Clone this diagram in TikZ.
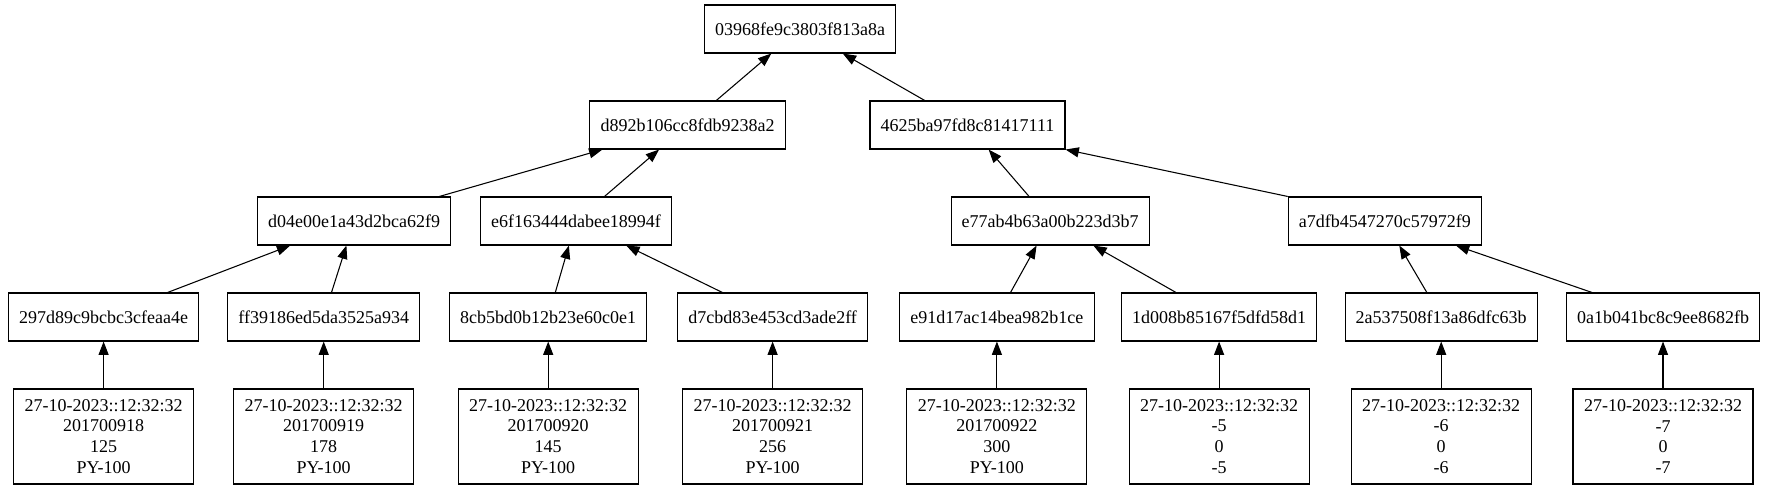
\documentclass[tikz,border=0pt]{standalone}
\usepackage{fontspec}
\setmainfont{Liberation Serif}
\usetikzlibrary{arrows.meta}
\begin{document}
\begin{tikzpicture}[x=0.75pt,y=-0.75pt,
  hbox/.style={draw, line width=0.8pt, minimum height=36pt, inner xsep=8pt, inner ysep=2pt,
    font=\fontsize{13.5}{15.7}\selectfont},
  leaf/.style={hbox, minimum height=71.25pt, minimum width=135pt, align=center},
  arr/.style={-{Triangle[length=10pt,width=7.5pt]}, line width=0.8pt}]
\useasboundingbox (0,0) rectangle (1767,489);
% level 0
\node[hbox] (root) at (800,29) {03968fe9c3803f813a8a};
% level 1
\node[hbox] (d892) at (687.6,125) {d892b106cc8fdb9238a2};
\node[hbox] (n4625) at (967.5,125) {4625ba97fd8c81417111};
% level 2
\node[hbox] (d04e) at (354.2,221) {d04e00e1a43d2bca62f9};
\node[hbox] (e6f1) at (576,221) {e6f163444dabee18994f};
\node[hbox] (e77a) at (1050.2,221) {e77ab4b63a00b223d3b7};
\node[hbox] (a7df) at (1384.9,221) {a7dfb4547270c57972f9};
% level 3
\node[hbox] (h297d) at (103.6,317) {297d89c9bcbc3cfeaa4e};
\node[hbox] (ff39) at (323.7,317) {ff39186ed5da3525a934};
\node[hbox] (h8cb5) at (548.2,317) {8cb5bd0b12b23e60c0e1};
\node[hbox] (d7cb) at (772.6,317) {d7cbd83e453cd3ade2ff};
\node[hbox] (e91d) at (996.9,317) {e91d17ac14bea982b1ce};
\node[hbox] (h1d00) at (1219.1,317) {1d008b85167f5dfd58d1};
\node[hbox] (h2a53) at (1441.2,317) {2a537508f13a86dfc63b};
\node[hbox] (h0a1b) at (1663,317) {0a1b041bc8c9ee8682fb};
% level 4
\node[leaf] (l1) at (103.6,436.5) {27-10-2023::12:32:32\\201700918\\125\\PY-100};
\node[leaf] (l2) at (323.7,436.5) {27-10-2023::12:32:32\\201700919\\178\\PY-100};
\node[leaf] (l3) at (548.2,436.5) {27-10-2023::12:32:32\\201700920\\145\\PY-100};
\node[leaf] (l4) at (772.6,436.5) {27-10-2023::12:32:32\\201700921\\256\\PY-100};
\node[leaf] (l5) at (996.9,436.5) {27-10-2023::12:32:32\\201700922\\300\\PY-100};
\node[leaf] (l6) at (1219.1,436.5) {27-10-2023::12:32:32\\-5\\0\\-5};
\node[leaf] (l7) at (1441.2,436.5) {27-10-2023::12:32:32\\-6\\0\\-6};
\node[leaf] (l8) at (1663,436.5) {27-10-2023::12:32:32\\-7\\0\\-7};
% edges
\draw[arr] (d892) -- (root);
\draw[arr] (n4625) -- (root);
\draw[arr] (d04e) -- (d892);
\draw[arr] (e6f1) -- (d892);
\draw[arr] (e77a) -- (n4625);
\draw[arr] (a7df.north west) -- (n4625.south east);
\draw[arr] (h297d) -- (d04e);
\draw[arr] (ff39) -- (d04e);
\draw[arr] (h8cb5) -- (e6f1);
\draw[arr] (d7cb) -- (e6f1);
\draw[arr] (e91d) -- (e77a);
\draw[arr] (h1d00) -- (e77a);
\draw[arr] (h2a53) -- (a7df);
\draw[arr] (h0a1b) -- (a7df);
\draw[arr] (l1) -- (h297d);
\draw[arr] (l2) -- (ff39);
\draw[arr] (l3) -- (h8cb5);
\draw[arr] (l4) -- (d7cb);
\draw[arr] (l5) -- (e91d);
\draw[arr] (l6) -- (h1d00);
\draw[arr] (l7) -- (h2a53);
\draw[arr] (l8) -- (h0a1b);
\end{tikzpicture}
\end{document}
